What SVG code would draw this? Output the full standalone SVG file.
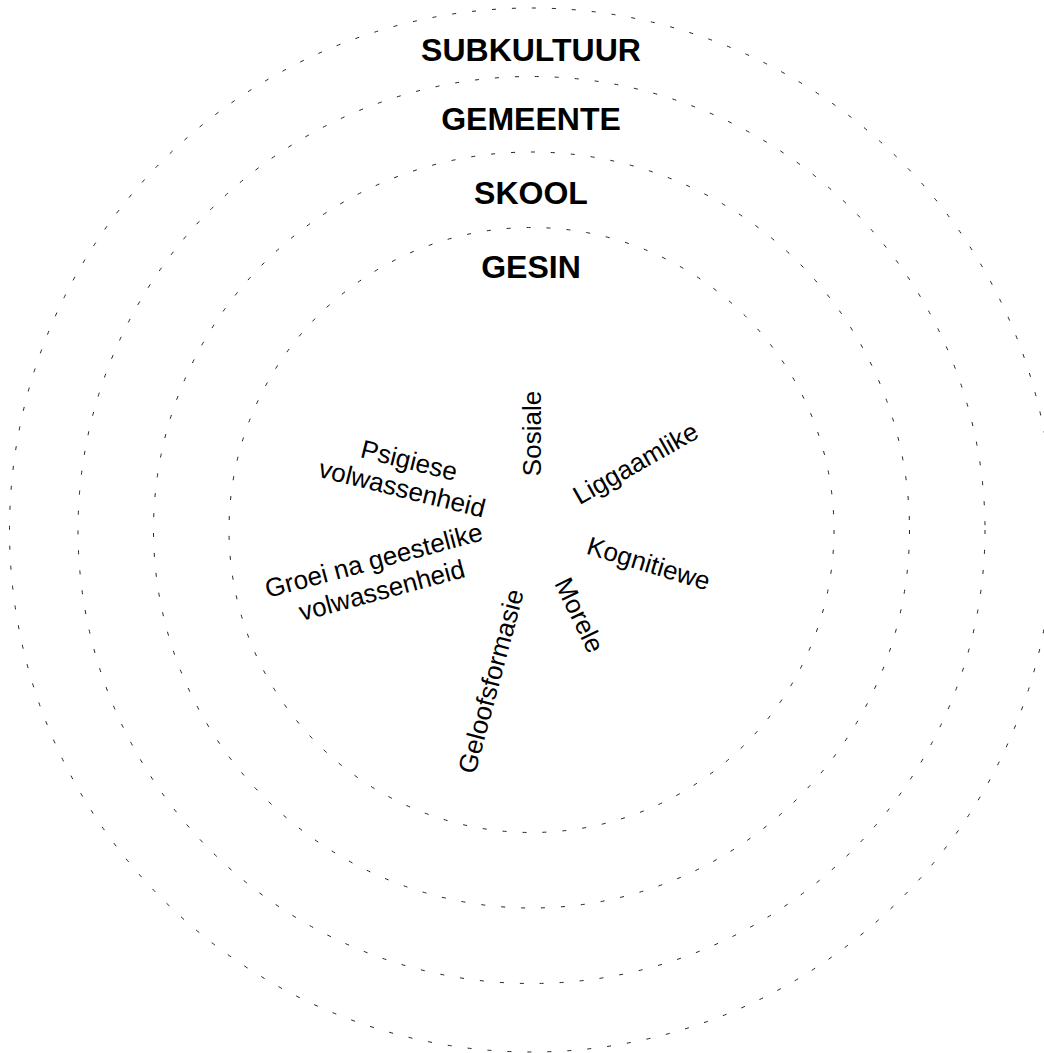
<svg xmlns="http://www.w3.org/2000/svg" width="1044" height="1053" viewBox="0 0 1044 1053">
<style>
.ring{fill:none;stroke:#222;stroke-width:1;stroke-dasharray:4 16}
.title{font-family:"Liberation Sans",Arial,sans-serif;font-weight:bold;font-size:32px;fill:#000;text-anchor:middle}
.lbl{font-family:"Liberation Sans",Arial,sans-serif;font-size:26px;fill:#000}
.mid{text-anchor:middle}
</style>
<rect width="1044" height="1053" fill="#fff"/>
<g id="rings">
<circle id="ring-subkultuur" class="ring" cx="531.5" cy="530" r="522"/>
<circle id="ring-gemeente" class="ring" cx="531.5" cy="530" r="453.5"/>
<circle id="ring-skool" class="ring" cx="531.5" cy="530" r="378"/>
<circle id="ring-gesin" class="ring" cx="531.5" cy="530" r="302.5"/>
</g>
<g id="titles">
<text id="t-subkultuur" class="title" x="531" y="61">SUBKULTUUR</text>
<text id="t-gemeente" class="title" x="531" y="130">GEMEENTE</text>
<text id="t-skool" class="title" x="531" y="204">SKOOL</text>
<text id="t-gesin" class="title" x="531" y="278">GESIN</text>
</g>
<g id="labels">
<text id="l-sosiale" class="lbl mid" transform="translate(541,433.5) rotate(-90)">Sosiale</text>
<text id="l-liggaamlike" class="lbl mid" transform="translate(640,471) rotate(-29.5)">Liggaamlike</text>
<text id="l-kognitiewe" class="lbl mid" transform="translate(646,572) rotate(17)">Kognitiewe</text>
<text id="l-morele" class="lbl mid" transform="translate(571.5,619) rotate(64)">Morele</text>
<text id="l-geloofsformasie" class="lbl mid" transform="translate(499.5,683.5) rotate(-75)">Geloofsformasie</text>
<text id="l-groei" class="lbl mid" transform="translate(376,569) rotate(-15)"><tspan x="0" y="0">Groei na geestelike</tspan><tspan x="0" y="31">volwassenheid</tspan></text>
<text id="l-psigiese" class="lbl mid" transform="translate(407,469) rotate(14)"><tspan x="0" y="0">Psigiese</tspan><tspan x="0" y="29">volwassenheid</tspan></text>
</g>
</svg>
